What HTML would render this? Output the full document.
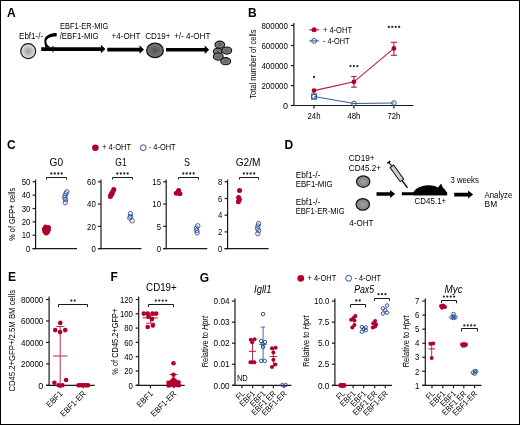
<!DOCTYPE html><html><head><meta charset="utf-8"><style>html,body{margin:0;padding:0;background:#fff;}svg{display:block;will-change:transform;}text{font-family:"Liberation Sans",sans-serif;}</style></head><body>
<svg width="520" height="425" viewBox="0 0 520 425">
<defs><radialGradient id="g1"><stop offset="0" stop-color="#9a9a9a"/><stop offset="1" stop-color="#e4e4e4"/></radialGradient><radialGradient id="g2"><stop offset="0" stop-color="#555"/><stop offset="1" stop-color="#7a7a7a"/></radialGradient><radialGradient id="g4"><stop offset="0" stop-color="#a2a2a2"/><stop offset="1" stop-color="#7e7e7e"/></radialGradient><radialGradient id="g3"><stop offset="0" stop-color="#5e5e5e"/><stop offset="1" stop-color="#858585"/></radialGradient></defs>
<rect x="0" y="0" width="520" height="425" fill="#fff"/>
<rect x="0.5" y="0.5" width="519" height="424" fill="none" stroke="#000" stroke-width="1"/>
<text x="7.00" y="16.60" font-size="12.0" font-weight="bold" fill="#000">A</text>
<circle cx="28.2" cy="51.1" r="7.5" fill="url(#g1)" stroke="#111" stroke-width="1.15"/>
<text x="19.00" y="38.50" font-size="9.3" textLength="24.20" lengthAdjust="spacingAndGlyphs">Ebf1-/-</text>
<text x="60.00" y="29.30" font-size="9.3" textLength="48.30" lengthAdjust="spacingAndGlyphs">EBF1-ER-MIG</text>
<text x="59.70" y="38.90" font-size="9.3" textLength="39.00" lengthAdjust="spacingAndGlyphs">/EBF1-MIG</text>
<path d="M41.20,47.30 H100.90 V44.85 L105.40,49.10 L100.90,53.35 V50.90 H41.20 Z" fill="#000"/>
<path d="M56.7,33.1 C50.5,33.1 44.4,35.5 44.4,41.0 C44.4,43.5 44.9,45.5 45.4,47.6 L51.3,47.6 C48.5,46.3 46.3,44.2 46.3,41.4 C46.3,38.5 50.5,36.5 56.7,36.5 Z" fill="#000"/>
<path d="M52.5,45.5 L55.5,49.1 L52.5,52.7 Z" fill="#000"/>
<text x="111.50" y="38.50" font-size="9.3" textLength="29.00" lengthAdjust="spacingAndGlyphs">+4-OHT</text>
<path d="M107.30,47.80 H139.50 V45.35 L144.00,49.60 L139.50,53.85 V51.40 H107.30 Z" fill="#000"/>
<ellipse cx="155.0" cy="50.4" rx="8.3" ry="7.3" fill="url(#g2)" stroke="#111" stroke-width="1.25"/>
<text x="145.20" y="38.50" font-size="9.3" textLength="25.30" lengthAdjust="spacingAndGlyphs">CD19+</text>
<text x="174.00" y="38.50" font-size="9.3" textLength="36.40" lengthAdjust="spacingAndGlyphs">+/- 4-OHT</text>
<path d="M166.00,47.90 H204.70 V45.45 L209.20,49.70 L204.70,53.95 V51.50 H166.00 Z" fill="#000"/>
<ellipse cx="219.8" cy="44.7" rx="4.8" ry="3.6" fill="url(#g3)" stroke="#111" stroke-width="1.1"/>
<ellipse cx="217.7" cy="51.5" rx="4.4" ry="3.3" fill="url(#g3)" stroke="#111" stroke-width="1.1"/>
<ellipse cx="226.8" cy="50.6" rx="4.9" ry="3.6" fill="url(#g3)" stroke="#111" stroke-width="1.1"/>
<ellipse cx="218.3" cy="56.6" rx="4.9" ry="3.6" fill="url(#g3)" stroke="#111" stroke-width="1.1"/>
<ellipse cx="225.7" cy="61.2" rx="4.9" ry="3.6" fill="url(#g3)" stroke="#111" stroke-width="1.1"/>
<text x="248.00" y="16.60" font-size="12.0" font-weight="bold" fill="#000">B</text>
<line x1="293.90" y1="23.00" x2="293.90" y2="106.10" stroke="#1a1a1a" stroke-width="1.2"/>
<line x1="290.90" y1="25.40" x2="293.90" y2="25.40" stroke="#1a1a1a" stroke-width="1.2"/>
<text x="287.90" y="28.64" font-size="9.0" text-anchor="end" textLength="26.50" lengthAdjust="spacingAndGlyphs">800000</text>
<line x1="290.90" y1="45.50" x2="293.90" y2="45.50" stroke="#1a1a1a" stroke-width="1.2"/>
<text x="287.90" y="48.74" font-size="9.0" text-anchor="end" textLength="26.50" lengthAdjust="spacingAndGlyphs">600000</text>
<line x1="290.90" y1="65.60" x2="293.90" y2="65.60" stroke="#1a1a1a" stroke-width="1.2"/>
<text x="287.90" y="68.84" font-size="9.0" text-anchor="end" textLength="26.50" lengthAdjust="spacingAndGlyphs">400000</text>
<line x1="290.90" y1="85.60" x2="293.90" y2="85.60" stroke="#1a1a1a" stroke-width="1.2"/>
<text x="287.90" y="88.84" font-size="9.0" text-anchor="end" textLength="26.50" lengthAdjust="spacingAndGlyphs">200000</text>
<line x1="290.90" y1="105.50" x2="293.90" y2="105.50" stroke="#1a1a1a" stroke-width="1.2"/>
<text x="287.90" y="108.74" font-size="9.0" text-anchor="end">0</text>
<line x1="290.90" y1="105.50" x2="413.50" y2="105.50" stroke="#1a1a1a" stroke-width="1.2"/>
<line x1="314.00" y1="105.50" x2="314.00" y2="108.50" stroke="#1a1a1a" stroke-width="1.2"/>
<line x1="353.90" y1="105.50" x2="353.90" y2="108.50" stroke="#1a1a1a" stroke-width="1.2"/>
<line x1="393.90" y1="105.50" x2="393.90" y2="108.50" stroke="#1a1a1a" stroke-width="1.2"/>
<text x="314.00" y="118.50" font-size="8.8" text-anchor="middle" textLength="13.00" lengthAdjust="spacingAndGlyphs">24h</text>
<text x="353.90" y="118.50" font-size="8.8" text-anchor="middle" textLength="13.00" lengthAdjust="spacingAndGlyphs">48h</text>
<text x="393.90" y="118.50" font-size="8.8" text-anchor="middle" textLength="13.00" lengthAdjust="spacingAndGlyphs">72h</text>
<text x="256.10" y="64.10" font-size="8.8" text-anchor="middle" textLength="69.40" lengthAdjust="spacingAndGlyphs" transform="rotate(-90 256.10 64.10)">Total number of cells</text>
<polyline points="314,90.6 353.9,81.8 393.9,48.4" fill="none" stroke="#b8183c" stroke-width="1.1"/>
<line x1="353.90" y1="76.50" x2="353.90" y2="87.20" stroke="#b8183c" stroke-width="1.1"/>
<line x1="351.10" y1="76.50" x2="356.70" y2="76.50" stroke="#b8183c" stroke-width="1.1"/>
<line x1="351.10" y1="87.20" x2="356.70" y2="87.20" stroke="#b8183c" stroke-width="1.1"/>
<line x1="393.90" y1="42.30" x2="393.90" y2="55.30" stroke="#b8183c" stroke-width="1.1"/>
<line x1="390.80" y1="42.30" x2="397.00" y2="42.30" stroke="#b8183c" stroke-width="1.1"/>
<line x1="390.80" y1="55.30" x2="397.00" y2="55.30" stroke="#b8183c" stroke-width="1.1"/>
<circle cx="314.00" cy="90.60" r="2.4" fill="#b0002a"/>
<circle cx="353.90" cy="81.80" r="2.4" fill="#b0002a"/>
<circle cx="393.90" cy="48.40" r="2.4" fill="#b0002a"/>
<polyline points="314,96.5 353.9,103.5 393.9,103.0" fill="none" stroke="#3a5a9e" stroke-width="1.1"/>
<rect x="311.6" y="93.9" width="4.9" height="5.3" fill="none" stroke="#2e4f96" stroke-width="0.95"/>
<circle cx="314.00" cy="96.50" r="2.3" fill="none" stroke="#2e4f96" stroke-width="1.0"/>
<circle cx="353.90" cy="103.50" r="2.3" fill="none" stroke="#2e4f96" stroke-width="1.0"/>
<circle cx="393.90" cy="103.00" r="2.3" fill="none" stroke="#2e4f96" stroke-width="1.0"/>
<circle cx="314.00" cy="77.00" r="1.15" fill="#2a2a2a"/>
<circle cx="350.45" cy="66.10" r="1.15" fill="#2a2a2a"/>
<circle cx="353.90" cy="66.10" r="1.15" fill="#2a2a2a"/>
<circle cx="357.35" cy="66.10" r="1.15" fill="#2a2a2a"/>
<circle cx="388.82" cy="26.90" r="1.15" fill="#2a2a2a"/>
<circle cx="392.27" cy="26.90" r="1.15" fill="#2a2a2a"/>
<circle cx="395.73" cy="26.90" r="1.15" fill="#2a2a2a"/>
<circle cx="399.18" cy="26.90" r="1.15" fill="#2a2a2a"/>
<line x1="309.20" y1="29.80" x2="319.00" y2="29.80" stroke="#b8183c" stroke-width="1.1"/>
<circle cx="314.10" cy="29.80" r="2.5" fill="#b0002a"/>
<text x="322.90" y="32.50" font-size="8.6" textLength="29.10" lengthAdjust="spacingAndGlyphs">+ 4-OHT</text>
<line x1="309.20" y1="40.90" x2="319.00" y2="40.90" stroke="#3a5a9e" stroke-width="1.1"/>
<circle cx="314.10" cy="40.90" r="2.4" fill="none" stroke="#2e4f96" stroke-width="1.0"/>
<text x="322.90" y="43.60" font-size="8.6" textLength="26.60" lengthAdjust="spacingAndGlyphs">- 4-OHT</text>
<text x="7.00" y="149.00" font-size="12.0" font-weight="bold" fill="#000">C</text>
<circle cx="95.40" cy="147.70" r="3.3" fill="#b0002a"/>
<text x="102.00" y="150.30" font-size="8.62" textLength="29.00" lengthAdjust="spacingAndGlyphs">+ 4-OHT</text>
<circle cx="143.20" cy="147.70" r="2.9" fill="none" stroke="#2e4f96" stroke-width="1.0"/>
<text x="148.80" y="150.30" font-size="8.62" textLength="26.80" lengthAdjust="spacingAndGlyphs">- 4-OHT</text>
<text x="15.30" y="214.30" font-size="8.5" text-anchor="middle" textLength="52.80" lengthAdjust="spacingAndGlyphs" transform="rotate(-90 15.30 214.30)">% of GFP+ cells</text>
<line x1="35.60" y1="179.50" x2="35.60" y2="249.20" stroke="#1a1a1a" stroke-width="1.2"/>
<line x1="32.60" y1="248.60" x2="35.60" y2="248.60" stroke="#1a1a1a" stroke-width="1.2"/>
<text x="30.40" y="251.84" font-size="9.0" text-anchor="end" textLength="4.34" lengthAdjust="spacingAndGlyphs">0</text>
<line x1="32.60" y1="235.24" x2="35.60" y2="235.24" stroke="#1a1a1a" stroke-width="1.2"/>
<text x="30.40" y="238.48" font-size="9.0" text-anchor="end" textLength="8.68" lengthAdjust="spacingAndGlyphs">10</text>
<line x1="32.60" y1="221.88" x2="35.60" y2="221.88" stroke="#1a1a1a" stroke-width="1.2"/>
<text x="30.40" y="225.12" font-size="9.0" text-anchor="end" textLength="8.68" lengthAdjust="spacingAndGlyphs">20</text>
<line x1="32.60" y1="208.52" x2="35.60" y2="208.52" stroke="#1a1a1a" stroke-width="1.2"/>
<text x="30.40" y="211.76" font-size="9.0" text-anchor="end" textLength="8.68" lengthAdjust="spacingAndGlyphs">30</text>
<line x1="32.60" y1="195.16" x2="35.60" y2="195.16" stroke="#1a1a1a" stroke-width="1.2"/>
<text x="30.40" y="198.40" font-size="9.0" text-anchor="end" textLength="8.68" lengthAdjust="spacingAndGlyphs">40</text>
<line x1="32.60" y1="181.80" x2="35.60" y2="181.80" stroke="#1a1a1a" stroke-width="1.2"/>
<text x="30.40" y="185.04" font-size="9.0" text-anchor="end" textLength="8.68" lengthAdjust="spacingAndGlyphs">50</text>
<line x1="32.60" y1="248.60" x2="77.00" y2="248.60" stroke="#1a1a1a" stroke-width="1.2"/>
<text x="56.30" y="165.90" font-size="10.53" text-anchor="middle" textLength="13.50" lengthAdjust="spacingAndGlyphs">G0</text>
<path d="M46.50,179.50 V177.50 H66.50 V179.50" fill="none" stroke="#1a1a1a" stroke-width="1"/>
<circle cx="51.33" cy="173.50" r="1.15" fill="#2a2a2a"/>
<circle cx="54.77" cy="173.50" r="1.15" fill="#2a2a2a"/>
<circle cx="58.23" cy="173.50" r="1.15" fill="#2a2a2a"/>
<circle cx="61.67" cy="173.50" r="1.15" fill="#2a2a2a"/>
<circle cx="45.60" cy="227.00" r="2.5" fill="#b0002a"/>
<circle cx="48.40" cy="227.40" r="2.5" fill="#b0002a"/>
<circle cx="44.40" cy="229.00" r="2.5" fill="#b0002a"/>
<circle cx="48.40" cy="229.80" r="2.5" fill="#b0002a"/>
<circle cx="46.20" cy="230.00" r="2.5" fill="#b0002a"/>
<circle cx="44.80" cy="231.60" r="2.5" fill="#b0002a"/>
<circle cx="47.60" cy="231.80" r="2.5" fill="#b0002a"/>
<circle cx="46.20" cy="233.00" r="2.5" fill="#b0002a"/>
<circle cx="66.80" cy="191.80" r="2.2" fill="none" stroke="#2e4f96" stroke-width="0.9"/>
<circle cx="65.80" cy="193.80" r="2.2" fill="none" stroke="#2e4f96" stroke-width="0.9"/>
<circle cx="65.00" cy="195.80" r="2.2" fill="none" stroke="#2e4f96" stroke-width="0.9"/>
<circle cx="64.80" cy="197.80" r="2.2" fill="none" stroke="#2e4f96" stroke-width="0.9"/>
<circle cx="65.60" cy="199.80" r="2.2" fill="none" stroke="#2e4f96" stroke-width="0.9"/>
<circle cx="65.30" cy="202.60" r="2.2" fill="none" stroke="#2e4f96" stroke-width="0.9"/>
<line x1="101.00" y1="179.50" x2="101.00" y2="249.20" stroke="#1a1a1a" stroke-width="1.2"/>
<line x1="98.00" y1="248.60" x2="101.00" y2="248.60" stroke="#1a1a1a" stroke-width="1.2"/>
<text x="95.80" y="251.84" font-size="9.0" text-anchor="end" textLength="4.34" lengthAdjust="spacingAndGlyphs">0</text>
<line x1="98.00" y1="226.33" x2="101.00" y2="226.33" stroke="#1a1a1a" stroke-width="1.2"/>
<text x="95.80" y="229.57" font-size="9.0" text-anchor="end" textLength="8.68" lengthAdjust="spacingAndGlyphs">20</text>
<line x1="98.00" y1="204.07" x2="101.00" y2="204.07" stroke="#1a1a1a" stroke-width="1.2"/>
<text x="95.80" y="207.31" font-size="9.0" text-anchor="end" textLength="8.68" lengthAdjust="spacingAndGlyphs">40</text>
<line x1="98.00" y1="181.80" x2="101.00" y2="181.80" stroke="#1a1a1a" stroke-width="1.2"/>
<text x="95.80" y="185.04" font-size="9.0" text-anchor="end" textLength="8.68" lengthAdjust="spacingAndGlyphs">60</text>
<line x1="98.00" y1="248.60" x2="141.50" y2="248.60" stroke="#1a1a1a" stroke-width="1.2"/>
<text x="121.00" y="165.90" font-size="10.53" text-anchor="middle" textLength="11.40" lengthAdjust="spacingAndGlyphs">G1</text>
<path d="M112.50,179.50 V177.50 H132.50 V179.50" fill="none" stroke="#1a1a1a" stroke-width="1"/>
<circle cx="117.33" cy="173.50" r="1.15" fill="#2a2a2a"/>
<circle cx="120.78" cy="173.50" r="1.15" fill="#2a2a2a"/>
<circle cx="124.22" cy="173.50" r="1.15" fill="#2a2a2a"/>
<circle cx="127.67" cy="173.50" r="1.15" fill="#2a2a2a"/>
<circle cx="113.80" cy="189.60" r="2.5" fill="#b0002a"/>
<circle cx="112.80" cy="191.50" r="2.5" fill="#b0002a"/>
<circle cx="111.60" cy="193.50" r="2.5" fill="#b0002a"/>
<circle cx="110.60" cy="195.50" r="2.5" fill="#b0002a"/>
<circle cx="110.40" cy="196.50" r="2.5" fill="#b0002a"/>
<circle cx="112.00" cy="194.00" r="2.5" fill="#b0002a"/>
<circle cx="130.40" cy="213.60" r="2.2" fill="none" stroke="#2e4f96" stroke-width="0.9"/>
<circle cx="130.60" cy="216.50" r="2.2" fill="none" stroke="#2e4f96" stroke-width="0.9"/>
<circle cx="129.80" cy="218.00" r="2.2" fill="none" stroke="#2e4f96" stroke-width="0.9"/>
<circle cx="132.20" cy="220.80" r="2.2" fill="none" stroke="#2e4f96" stroke-width="0.9"/>
<line x1="166.20" y1="179.50" x2="166.20" y2="249.20" stroke="#1a1a1a" stroke-width="1.2"/>
<line x1="163.20" y1="248.60" x2="166.20" y2="248.60" stroke="#1a1a1a" stroke-width="1.2"/>
<text x="161.00" y="251.84" font-size="9.0" text-anchor="end" textLength="4.34" lengthAdjust="spacingAndGlyphs">0</text>
<line x1="163.20" y1="226.33" x2="166.20" y2="226.33" stroke="#1a1a1a" stroke-width="1.2"/>
<text x="161.00" y="229.57" font-size="9.0" text-anchor="end" textLength="4.34" lengthAdjust="spacingAndGlyphs">5</text>
<line x1="163.20" y1="204.07" x2="166.20" y2="204.07" stroke="#1a1a1a" stroke-width="1.2"/>
<text x="161.00" y="207.31" font-size="9.0" text-anchor="end" textLength="8.68" lengthAdjust="spacingAndGlyphs">10</text>
<line x1="163.20" y1="181.80" x2="166.20" y2="181.80" stroke="#1a1a1a" stroke-width="1.2"/>
<text x="161.00" y="185.04" font-size="9.0" text-anchor="end" textLength="8.68" lengthAdjust="spacingAndGlyphs">15</text>
<line x1="163.20" y1="248.60" x2="207.30" y2="248.60" stroke="#1a1a1a" stroke-width="1.2"/>
<text x="186.90" y="165.90" font-size="10.53" text-anchor="middle" textLength="6.00" lengthAdjust="spacingAndGlyphs">S</text>
<path d="M178.50,179.50 V177.50 H198.50 V179.50" fill="none" stroke="#1a1a1a" stroke-width="1"/>
<circle cx="183.32" cy="173.50" r="1.15" fill="#2a2a2a"/>
<circle cx="186.78" cy="173.50" r="1.15" fill="#2a2a2a"/>
<circle cx="190.22" cy="173.50" r="1.15" fill="#2a2a2a"/>
<circle cx="193.68" cy="173.50" r="1.15" fill="#2a2a2a"/>
<circle cx="178.60" cy="190.40" r="2.5" fill="#b0002a"/>
<circle cx="176.30" cy="193.30" r="2.5" fill="#b0002a"/>
<circle cx="179.90" cy="193.80" r="2.5" fill="#b0002a"/>
<circle cx="178.00" cy="192.60" r="2.5" fill="#b0002a"/>
<circle cx="197.80" cy="225.80" r="2.2" fill="none" stroke="#2e4f96" stroke-width="0.9"/>
<circle cx="196.40" cy="228.20" r="2.2" fill="none" stroke="#2e4f96" stroke-width="0.9"/>
<circle cx="196.80" cy="230.50" r="2.2" fill="none" stroke="#2e4f96" stroke-width="0.9"/>
<circle cx="197.20" cy="232.80" r="2.2" fill="none" stroke="#2e4f96" stroke-width="0.9"/>
<line x1="227.60" y1="179.50" x2="227.60" y2="249.20" stroke="#1a1a1a" stroke-width="1.2"/>
<line x1="224.60" y1="248.60" x2="227.60" y2="248.60" stroke="#1a1a1a" stroke-width="1.2"/>
<text x="222.40" y="251.84" font-size="9.0" text-anchor="end" textLength="4.34" lengthAdjust="spacingAndGlyphs">0</text>
<line x1="224.60" y1="231.90" x2="227.60" y2="231.90" stroke="#1a1a1a" stroke-width="1.2"/>
<text x="222.40" y="235.14" font-size="9.0" text-anchor="end" textLength="4.34" lengthAdjust="spacingAndGlyphs">2</text>
<line x1="224.60" y1="215.20" x2="227.60" y2="215.20" stroke="#1a1a1a" stroke-width="1.2"/>
<text x="222.40" y="218.44" font-size="9.0" text-anchor="end" textLength="4.34" lengthAdjust="spacingAndGlyphs">4</text>
<line x1="224.60" y1="198.50" x2="227.60" y2="198.50" stroke="#1a1a1a" stroke-width="1.2"/>
<text x="222.40" y="201.74" font-size="9.0" text-anchor="end" textLength="4.34" lengthAdjust="spacingAndGlyphs">6</text>
<line x1="224.60" y1="181.80" x2="227.60" y2="181.80" stroke="#1a1a1a" stroke-width="1.2"/>
<text x="222.40" y="185.04" font-size="9.0" text-anchor="end" textLength="4.34" lengthAdjust="spacingAndGlyphs">8</text>
<line x1="224.60" y1="248.60" x2="268.60" y2="248.60" stroke="#1a1a1a" stroke-width="1.2"/>
<text x="248.10" y="165.90" font-size="10.53" text-anchor="middle" textLength="24.80" lengthAdjust="spacingAndGlyphs">G2/M</text>
<path d="M239.50,179.50 V177.50 H258.50 V179.50" fill="none" stroke="#1a1a1a" stroke-width="1"/>
<circle cx="243.82" cy="173.50" r="1.15" fill="#2a2a2a"/>
<circle cx="247.28" cy="173.50" r="1.15" fill="#2a2a2a"/>
<circle cx="250.72" cy="173.50" r="1.15" fill="#2a2a2a"/>
<circle cx="254.18" cy="173.50" r="1.15" fill="#2a2a2a"/>
<circle cx="239.60" cy="190.40" r="2.5" fill="#b0002a"/>
<circle cx="238.60" cy="197.60" r="2.5" fill="#b0002a"/>
<circle cx="239.40" cy="199.60" r="2.5" fill="#b0002a"/>
<circle cx="238.40" cy="201.80" r="2.5" fill="#b0002a"/>
<circle cx="258.60" cy="223.60" r="2.2" fill="none" stroke="#2e4f96" stroke-width="0.9"/>
<circle cx="258.00" cy="226.00" r="2.2" fill="none" stroke="#2e4f96" stroke-width="0.9"/>
<circle cx="257.40" cy="228.40" r="2.2" fill="none" stroke="#2e4f96" stroke-width="0.9"/>
<circle cx="258.60" cy="230.60" r="2.2" fill="none" stroke="#2e4f96" stroke-width="0.9"/>
<circle cx="257.80" cy="233.60" r="2.2" fill="none" stroke="#2e4f96" stroke-width="0.9"/>
<text x="284.60" y="149.00" font-size="12.0" font-weight="bold" fill="#000">D</text>
<text x="348.80" y="161.00" font-size="9.3" textLength="25.80" lengthAdjust="spacingAndGlyphs">CD19+</text>
<text x="348.80" y="170.80" font-size="9.3" textLength="32.10" lengthAdjust="spacingAndGlyphs">CD45.2+</text>
<text x="295.70" y="177.70" font-size="9.3" textLength="24.70" lengthAdjust="spacingAndGlyphs">Ebf1-/-</text>
<text x="295.70" y="187.00" font-size="9.3" textLength="36.90" lengthAdjust="spacingAndGlyphs">EBF1-MIG</text>
<text x="295.70" y="205.40" font-size="9.3" textLength="24.70" lengthAdjust="spacingAndGlyphs">Ebf1-/-</text>
<text x="295.70" y="214.20" font-size="9.3" textLength="48.90" lengthAdjust="spacingAndGlyphs">EBF1-ER-MIG</text>
<text x="349.20" y="226.20" font-size="9.3" textLength="24.30" lengthAdjust="spacingAndGlyphs">4-OHT</text>
<ellipse cx="363.2" cy="181.6" rx="6.7" ry="5.7" fill="url(#g4)" stroke="#151515" stroke-width="1.2"/>
<ellipse cx="362.8" cy="204.4" rx="6.7" ry="5.8" fill="url(#g4)" stroke="#151515" stroke-width="1.2"/>
<path d="M376.50,192.20 H390.10 V190.00 L395.10,194.00 L390.10,198.00 V195.80 H376.50 Z" fill="#000"/>
<g transform="rotate(54.1 398 174.8)"><line x1="382.3" y1="174.8" x2="388" y2="174.8" stroke="#000" stroke-width="1.0"/><line x1="404" y1="174.8" x2="414.1" y2="174.8" stroke="#000" stroke-width="1.35"/><rect x="387.5" y="172.6" width="17.3" height="4.4" fill="#d0d0d0" stroke="#111" stroke-width="1.0"/><line x1="382.4" y1="172.9" x2="382.4" y2="176.7" stroke="#000" stroke-width="1.5"/></g>
<path d="M401.8,192.2 H447.2 V195.2 H401.8 Z" fill="#000"/>
<path d="M413.3,192.5 C415.5,188.5 420.5,185.6 428,185.2 C432.5,185.0 436,186.0 438.0,187.6 L441.2,183.5 L442.8,187.6 C444.7,189.0 446.6,191.3 447.0,193.5 L447.0,195.2 L413.3,195.2 Z" fill="#000"/>
<text x="414.60" y="203.80" font-size="9.3" textLength="31.60" lengthAdjust="spacingAndGlyphs">CD45.1+</text>
<text x="450.50" y="183.10" font-size="9.3" textLength="28.30" lengthAdjust="spacingAndGlyphs">3 weeks</text>
<path d="M454.20,192.80 H468.10 V190.60 L473.10,194.60 L468.10,198.60 V196.40 H454.20 Z" fill="#000"/>
<text x="484.60" y="197.70" font-size="9.3" textLength="27.70" lengthAdjust="spacingAndGlyphs">Analyze</text>
<text x="484.60" y="207.00" font-size="9.3" textLength="12.50" lengthAdjust="spacingAndGlyphs">BM</text>
<text x="8.00" y="281.00" font-size="12.0" font-weight="bold" fill="#000">E</text>
<line x1="49.10" y1="296.40" x2="49.10" y2="385.90" stroke="#1a1a1a" stroke-width="1.2"/>
<line x1="46.10" y1="385.30" x2="49.10" y2="385.30" stroke="#1a1a1a" stroke-width="1.2"/>
<text x="43.30" y="388.54" font-size="9.0" text-anchor="end">0</text>
<line x1="46.10" y1="363.85" x2="49.10" y2="363.85" stroke="#1a1a1a" stroke-width="1.2"/>
<text x="43.30" y="367.09" font-size="9.0" text-anchor="end" textLength="22.30" lengthAdjust="spacingAndGlyphs">20000</text>
<line x1="46.10" y1="342.40" x2="49.10" y2="342.40" stroke="#1a1a1a" stroke-width="1.2"/>
<text x="43.30" y="345.64" font-size="9.0" text-anchor="end" textLength="22.30" lengthAdjust="spacingAndGlyphs">40000</text>
<line x1="46.10" y1="320.95" x2="49.10" y2="320.95" stroke="#1a1a1a" stroke-width="1.2"/>
<text x="43.30" y="324.19" font-size="9.0" text-anchor="end" textLength="22.30" lengthAdjust="spacingAndGlyphs">60000</text>
<line x1="46.10" y1="299.50" x2="49.10" y2="299.50" stroke="#1a1a1a" stroke-width="1.2"/>
<text x="43.30" y="302.74" font-size="9.0" text-anchor="end" textLength="22.30" lengthAdjust="spacingAndGlyphs">80000</text>
<line x1="46.10" y1="385.30" x2="94.70" y2="385.30" stroke="#1a1a1a" stroke-width="1.2"/>
<line x1="60.20" y1="385.30" x2="60.20" y2="388.30" stroke="#1a1a1a" stroke-width="1.2"/>
<line x1="83.30" y1="385.30" x2="83.30" y2="388.30" stroke="#1a1a1a" stroke-width="1.2"/>
<text x="15.40" y="340.75" font-size="8.5" text-anchor="middle" textLength="101.70" lengthAdjust="spacingAndGlyphs" transform="rotate(-90 15.40 340.75)">CD45.2+GFP+/2.5M BM cells</text>
<path d="M58.50,307.10 V304.50 H87.50 V307.10" fill="none" stroke="#1a1a1a" stroke-width="1"/>
<circle cx="71.28" cy="300.60" r="1.15" fill="#2a2a2a"/>
<circle cx="74.72" cy="300.60" r="1.15" fill="#2a2a2a"/>
<line x1="60.20" y1="326.50" x2="60.20" y2="385.30" stroke="#b8183c" stroke-width="0.9"/>
<line x1="56.20" y1="326.50" x2="64.40" y2="326.50" stroke="#b8183c" stroke-width="0.9"/>
<line x1="53.00" y1="356.00" x2="67.60" y2="356.00" stroke="#b8183c" stroke-width="0.9"/>
<circle cx="60.30" cy="322.90" r="2.3" fill="#b0002a"/>
<circle cx="55.20" cy="330.10" r="2.3" fill="#b0002a"/>
<circle cx="60.10" cy="332.10" r="2.3" fill="#b0002a"/>
<circle cx="65.20" cy="330.10" r="2.3" fill="#b0002a"/>
<circle cx="54.40" cy="382.70" r="2.3" fill="#b0002a"/>
<circle cx="58.60" cy="385.30" r="2.3" fill="#b0002a"/>
<circle cx="62.40" cy="385.30" r="2.3" fill="#b0002a"/>
<circle cx="66.10" cy="380.00" r="2.3" fill="#b0002a"/>
<circle cx="78.50" cy="385.30" r="2.3" fill="#b0002a"/>
<circle cx="80.50" cy="385.30" r="2.3" fill="#b0002a"/>
<circle cx="82.50" cy="385.30" r="2.3" fill="#b0002a"/>
<circle cx="84.50" cy="385.30" r="2.3" fill="#b0002a"/>
<circle cx="86.50" cy="385.30" r="2.3" fill="#b0002a"/>
<circle cx="88.00" cy="385.30" r="2.3" fill="#b0002a"/>
<text x="63.20" y="394.30" font-size="8.3" text-anchor="end" textLength="19.26" lengthAdjust="spacingAndGlyphs" transform="rotate(-45 63.20 394.30)">EBF1</text>
<text x="86.50" y="394.30" font-size="8.3" text-anchor="end" textLength="32.52" lengthAdjust="spacingAndGlyphs" transform="rotate(-45 86.50 394.30)">EBF1-ER</text>
<text x="110.60" y="281.00" font-size="12.0" font-weight="bold" fill="#000">F</text>
<text x="161.40" y="291.00" font-size="10.53" text-anchor="middle" textLength="30.60" lengthAdjust="spacingAndGlyphs">CD19+</text>
<line x1="138.70" y1="296.40" x2="138.70" y2="385.90" stroke="#1a1a1a" stroke-width="1.2"/>
<line x1="135.70" y1="385.30" x2="138.70" y2="385.30" stroke="#1a1a1a" stroke-width="1.2"/>
<text x="132.90" y="388.54" font-size="9.0" text-anchor="end" textLength="4.34" lengthAdjust="spacingAndGlyphs">0</text>
<line x1="135.70" y1="371.00" x2="138.70" y2="371.00" stroke="#1a1a1a" stroke-width="1.2"/>
<text x="132.90" y="374.24" font-size="9.0" text-anchor="end" textLength="8.68" lengthAdjust="spacingAndGlyphs">20</text>
<line x1="135.70" y1="356.70" x2="138.70" y2="356.70" stroke="#1a1a1a" stroke-width="1.2"/>
<text x="132.90" y="359.94" font-size="9.0" text-anchor="end" textLength="8.68" lengthAdjust="spacingAndGlyphs">40</text>
<line x1="135.70" y1="342.40" x2="138.70" y2="342.40" stroke="#1a1a1a" stroke-width="1.2"/>
<text x="132.90" y="345.64" font-size="9.0" text-anchor="end" textLength="8.68" lengthAdjust="spacingAndGlyphs">60</text>
<line x1="135.70" y1="328.10" x2="138.70" y2="328.10" stroke="#1a1a1a" stroke-width="1.2"/>
<text x="132.90" y="331.34" font-size="9.0" text-anchor="end" textLength="8.68" lengthAdjust="spacingAndGlyphs">80</text>
<line x1="135.70" y1="313.80" x2="138.70" y2="313.80" stroke="#1a1a1a" stroke-width="1.2"/>
<text x="132.90" y="317.04" font-size="9.0" text-anchor="end" textLength="13.01" lengthAdjust="spacingAndGlyphs">100</text>
<line x1="135.70" y1="299.50" x2="138.70" y2="299.50" stroke="#1a1a1a" stroke-width="1.2"/>
<text x="132.90" y="302.74" font-size="9.0" text-anchor="end" textLength="13.01" lengthAdjust="spacingAndGlyphs">120</text>
<line x1="135.70" y1="385.30" x2="184.70" y2="385.30" stroke="#1a1a1a" stroke-width="1.2"/>
<line x1="150.50" y1="385.30" x2="150.50" y2="388.30" stroke="#1a1a1a" stroke-width="1.2"/>
<line x1="174.00" y1="385.30" x2="174.00" y2="388.30" stroke="#1a1a1a" stroke-width="1.2"/>
<text x="118.30" y="341.70" font-size="8.5" text-anchor="middle" textLength="66.20" lengthAdjust="spacingAndGlyphs" transform="rotate(-90 118.30 341.70)">% of CD45.2+GFP+</text>
<path d="M148.50,307.10 V304.50 H173.50 V307.10" fill="none" stroke="#1a1a1a" stroke-width="1"/>
<circle cx="155.82" cy="300.60" r="1.15" fill="#2a2a2a"/>
<circle cx="159.28" cy="300.60" r="1.15" fill="#2a2a2a"/>
<circle cx="162.72" cy="300.60" r="1.15" fill="#2a2a2a"/>
<circle cx="166.18" cy="300.60" r="1.15" fill="#2a2a2a"/>
<line x1="150.50" y1="315.20" x2="150.50" y2="323.20" stroke="#b8183c" stroke-width="0.9"/>
<line x1="146.00" y1="323.20" x2="155.00" y2="323.20" stroke="#b8183c" stroke-width="0.9"/>
<line x1="146.00" y1="315.20" x2="155.00" y2="315.20" stroke="#b8183c" stroke-width="0.9"/>
<line x1="142.60" y1="317.90" x2="157.90" y2="317.90" stroke="#b8183c" stroke-width="1.0"/>
<circle cx="143.80" cy="313.60" r="2.3" fill="#b0002a"/>
<circle cx="147.70" cy="313.60" r="2.3" fill="#b0002a"/>
<circle cx="152.40" cy="313.60" r="2.3" fill="#b0002a"/>
<circle cx="156.20" cy="313.60" r="2.3" fill="#b0002a"/>
<circle cx="148.50" cy="316.80" r="2.3" fill="#b0002a"/>
<circle cx="152.10" cy="319.10" r="2.3" fill="#b0002a"/>
<circle cx="147.70" cy="327.00" r="2.3" fill="#b0002a"/>
<circle cx="152.90" cy="325.40" r="2.3" fill="#b0002a"/>
<line x1="173.50" y1="374.50" x2="173.50" y2="385.30" stroke="#b8183c" stroke-width="0.9"/>
<line x1="169.40" y1="374.50" x2="177.60" y2="374.50" stroke="#b8183c" stroke-width="0.9"/>
<line x1="166.20" y1="381.20" x2="180.80" y2="381.20" stroke="#b8183c" stroke-width="1.0"/>
<circle cx="173.50" cy="363.20" r="2.3" fill="#b0002a"/>
<circle cx="173.50" cy="374.80" r="2.3" fill="#b0002a"/>
<circle cx="173.50" cy="379.60" r="2.3" fill="#b0002a"/>
<circle cx="171.60" cy="381.60" r="2.3" fill="#b0002a"/>
<circle cx="175.40" cy="381.40" r="2.3" fill="#b0002a"/>
<circle cx="168.70" cy="383.00" r="2.3" fill="#b0002a"/>
<circle cx="178.40" cy="382.60" r="2.3" fill="#b0002a"/>
<circle cx="170.40" cy="385.00" r="2.3" fill="#b0002a"/>
<circle cx="173.50" cy="385.20" r="2.3" fill="#b0002a"/>
<circle cx="176.60" cy="385.00" r="2.3" fill="#b0002a"/>
<circle cx="168.60" cy="385.40" r="2.3" fill="#b0002a"/>
<circle cx="178.90" cy="385.20" r="2.3" fill="#b0002a"/>
<circle cx="173.50" cy="382.60" r="2.3" fill="#b0002a"/>
<text x="153.50" y="394.30" font-size="8.3" text-anchor="end" textLength="19.26" lengthAdjust="spacingAndGlyphs" transform="rotate(-45 153.50 394.30)">EBF1</text>
<text x="177.00" y="394.30" font-size="8.3" text-anchor="end" textLength="32.52" lengthAdjust="spacingAndGlyphs" transform="rotate(-45 177.00 394.30)">EBF1-ER</text>
<text x="199.80" y="281.50" font-size="12.0" font-weight="bold" fill="#000">G</text>
<circle cx="300.80" cy="278.30" r="3.4" fill="#b0002a"/>
<text x="307.50" y="280.60" font-size="8.62" textLength="28.70" lengthAdjust="spacingAndGlyphs">+ 4-OHT</text>
<circle cx="348.70" cy="278.30" r="2.9" fill="none" stroke="#2e4f96" stroke-width="1.0"/>
<text x="354.60" y="280.60" font-size="8.62" textLength="26.30" lengthAdjust="spacingAndGlyphs">- 4-OHT</text>
<line x1="235.00" y1="298.50" x2="235.00" y2="385.90" stroke="#1a1a1a" stroke-width="1.2"/>
<line x1="232.00" y1="385.30" x2="235.00" y2="385.30" stroke="#1a1a1a" stroke-width="1.2"/>
<text x="229.50" y="388.54" font-size="9.0" text-anchor="end" textLength="15.90" lengthAdjust="spacingAndGlyphs">0.00</text>
<line x1="232.00" y1="364.25" x2="235.00" y2="364.25" stroke="#1a1a1a" stroke-width="1.2"/>
<text x="229.50" y="367.49" font-size="9.0" text-anchor="end" textLength="15.90" lengthAdjust="spacingAndGlyphs">0.01</text>
<line x1="232.00" y1="343.20" x2="235.00" y2="343.20" stroke="#1a1a1a" stroke-width="1.2"/>
<text x="229.50" y="346.44" font-size="9.0" text-anchor="end" textLength="15.90" lengthAdjust="spacingAndGlyphs">0.02</text>
<line x1="232.00" y1="322.15" x2="235.00" y2="322.15" stroke="#1a1a1a" stroke-width="1.2"/>
<text x="229.50" y="325.39" font-size="9.0" text-anchor="end" textLength="15.90" lengthAdjust="spacingAndGlyphs">0.03</text>
<line x1="232.00" y1="301.10" x2="235.00" y2="301.10" stroke="#1a1a1a" stroke-width="1.2"/>
<text x="229.50" y="304.34" font-size="9.0" text-anchor="end" textLength="15.90" lengthAdjust="spacingAndGlyphs">0.04</text>
<line x1="232.00" y1="385.30" x2="291.40" y2="385.30" stroke="#1a1a1a" stroke-width="1.2"/>
<line x1="241.90" y1="385.30" x2="241.90" y2="388.30" stroke="#1a1a1a" stroke-width="1.2"/>
<line x1="252.60" y1="385.30" x2="252.60" y2="388.30" stroke="#1a1a1a" stroke-width="1.2"/>
<line x1="263.10" y1="385.30" x2="263.10" y2="388.30" stroke="#1a1a1a" stroke-width="1.2"/>
<line x1="273.40" y1="385.30" x2="273.40" y2="388.30" stroke="#1a1a1a" stroke-width="1.2"/>
<line x1="284.00" y1="385.30" x2="284.00" y2="388.30" stroke="#1a1a1a" stroke-width="1.2"/>
<text x="262.80" y="293.00" font-size="10.35" text-anchor="middle" textLength="17.40" lengthAdjust="spacingAndGlyphs" font-style="italic">Igll1</text>
<text x="245.10" y="394.20" font-size="8.2" text-anchor="end" textLength="8.63" lengthAdjust="spacingAndGlyphs" transform="rotate(-45 245.10 394.20)">FL</text>
<text x="255.80" y="394.20" font-size="8.2" text-anchor="end" textLength="18.51" lengthAdjust="spacingAndGlyphs" transform="rotate(-45 255.80 394.20)">EBF1</text>
<text x="266.30" y="394.20" font-size="8.2" text-anchor="end" textLength="18.51" lengthAdjust="spacingAndGlyphs" transform="rotate(-45 266.30 394.20)">EBF1</text>
<text x="276.60" y="394.20" font-size="8.2" text-anchor="end" textLength="30.84" lengthAdjust="spacingAndGlyphs" transform="rotate(-45 276.60 394.20)">EBF1 ER</text>
<text x="287.20" y="394.20" font-size="8.2" text-anchor="end" textLength="31.25" lengthAdjust="spacingAndGlyphs" transform="rotate(-45 287.20 394.20)">EBF1-ER</text>
<text x="208.20" y="341.65" font-size="8.5" text-anchor="middle" transform="rotate(-90 208.20 341.65)" textLength="51.3" lengthAdjust="spacingAndGlyphs">Relative to <tspan font-style="italic">Hprt</tspan></text>
<text x="236.90" y="380.70" font-size="8.62" textLength="10.90" lengthAdjust="spacingAndGlyphs">ND</text>
<line x1="252.50" y1="339.50" x2="252.50" y2="362.30" stroke="#b8183c" stroke-width="0.9"/>
<line x1="248.90" y1="351.30" x2="256.00" y2="351.30" stroke="#b8183c" stroke-width="1.0"/>
<circle cx="250.80" cy="339.70" r="2.0" fill="#b0002a"/>
<circle cx="254.60" cy="339.20" r="2.0" fill="#b0002a"/>
<circle cx="252.20" cy="342.30" r="2.0" fill="#b0002a"/>
<circle cx="250.40" cy="362.30" r="2.0" fill="#b0002a"/>
<circle cx="254.40" cy="362.30" r="2.0" fill="#b0002a"/>
<circle cx="252.40" cy="362.30" r="2.0" fill="#b0002a"/>
<line x1="263.10" y1="327.10" x2="263.10" y2="360.90" stroke="#3a5a9e" stroke-width="0.9"/>
<line x1="260.90" y1="327.10" x2="265.30" y2="327.10" stroke="#3a5a9e" stroke-width="0.9"/>
<line x1="259.30" y1="344.40" x2="266.60" y2="344.40" stroke="#3a5a9e" stroke-width="1.0"/>
<circle cx="263.10" cy="314.10" r="1.75" fill="none" stroke="#2e4f96" stroke-width="1.0"/>
<circle cx="261.20" cy="341.10" r="1.75" fill="none" stroke="#2e4f96" stroke-width="1.0"/>
<circle cx="264.90" cy="342.10" r="1.75" fill="none" stroke="#2e4f96" stroke-width="1.0"/>
<circle cx="262.80" cy="344.00" r="1.75" fill="none" stroke="#2e4f96" stroke-width="1.0"/>
<circle cx="263.10" cy="347.00" r="1.75" fill="none" stroke="#2e4f96" stroke-width="1.0"/>
<circle cx="261.20" cy="360.90" r="1.75" fill="none" stroke="#2e4f96" stroke-width="1.0"/>
<circle cx="264.70" cy="360.90" r="1.75" fill="none" stroke="#2e4f96" stroke-width="1.0"/>
<line x1="273.40" y1="348.00" x2="273.40" y2="367.00" stroke="#b8183c" stroke-width="0.9"/>
<line x1="270.10" y1="356.50" x2="276.90" y2="356.50" stroke="#b8183c" stroke-width="1.0"/>
<circle cx="272.00" cy="348.20" r="2.0" fill="#b0002a"/>
<circle cx="275.60" cy="347.70" r="2.0" fill="#b0002a"/>
<circle cx="273.40" cy="352.40" r="2.0" fill="#b0002a"/>
<circle cx="273.40" cy="359.70" r="2.0" fill="#b0002a"/>
<circle cx="275.30" cy="364.40" r="2.0" fill="#b0002a"/>
<circle cx="272.00" cy="367.00" r="2.0" fill="#b0002a"/>
<circle cx="282.40" cy="385.00" r="1.75" fill="none" stroke="#2e4f96" stroke-width="0.9"/>
<circle cx="285.80" cy="385.00" r="1.75" fill="none" stroke="#2e4f96" stroke-width="0.9"/>
<line x1="334.90" y1="298.50" x2="334.90" y2="385.90" stroke="#1a1a1a" stroke-width="1.2"/>
<line x1="331.90" y1="385.30" x2="334.90" y2="385.30" stroke="#1a1a1a" stroke-width="1.2"/>
<text x="329.40" y="388.54" font-size="9.0" text-anchor="end" textLength="11.50" lengthAdjust="spacingAndGlyphs">0.0</text>
<line x1="331.90" y1="364.25" x2="334.90" y2="364.25" stroke="#1a1a1a" stroke-width="1.2"/>
<text x="329.40" y="367.49" font-size="9.0" text-anchor="end" textLength="11.50" lengthAdjust="spacingAndGlyphs">2.5</text>
<line x1="331.90" y1="343.20" x2="334.90" y2="343.20" stroke="#1a1a1a" stroke-width="1.2"/>
<text x="329.40" y="346.44" font-size="9.0" text-anchor="end" textLength="11.50" lengthAdjust="spacingAndGlyphs">5.0</text>
<line x1="331.90" y1="322.15" x2="334.90" y2="322.15" stroke="#1a1a1a" stroke-width="1.2"/>
<text x="329.40" y="325.39" font-size="9.0" text-anchor="end" textLength="11.50" lengthAdjust="spacingAndGlyphs">7.5</text>
<line x1="331.90" y1="301.10" x2="334.90" y2="301.10" stroke="#1a1a1a" stroke-width="1.2"/>
<text x="329.40" y="304.34" font-size="9.0" text-anchor="end" textLength="15.30" lengthAdjust="spacingAndGlyphs">10.0</text>
<line x1="331.90" y1="385.30" x2="392.10" y2="385.30" stroke="#1a1a1a" stroke-width="1.2"/>
<line x1="342.50" y1="385.30" x2="342.50" y2="388.30" stroke="#1a1a1a" stroke-width="1.2"/>
<line x1="353.10" y1="385.30" x2="353.10" y2="388.30" stroke="#1a1a1a" stroke-width="1.2"/>
<line x1="363.70" y1="385.30" x2="363.70" y2="388.30" stroke="#1a1a1a" stroke-width="1.2"/>
<line x1="374.70" y1="385.30" x2="374.70" y2="388.30" stroke="#1a1a1a" stroke-width="1.2"/>
<line x1="385.30" y1="385.30" x2="385.30" y2="388.30" stroke="#1a1a1a" stroke-width="1.2"/>
<text x="364.15" y="293.00" font-size="10.35" text-anchor="middle" textLength="19.90" lengthAdjust="spacingAndGlyphs" font-style="italic">Pax5</text>
<text x="345.70" y="394.20" font-size="8.2" text-anchor="end" textLength="8.63" lengthAdjust="spacingAndGlyphs" transform="rotate(-45 345.70 394.20)">FL</text>
<text x="356.30" y="394.20" font-size="8.2" text-anchor="end" textLength="18.51" lengthAdjust="spacingAndGlyphs" transform="rotate(-45 356.30 394.20)">EBF1</text>
<text x="366.90" y="394.20" font-size="8.2" text-anchor="end" textLength="18.51" lengthAdjust="spacingAndGlyphs" transform="rotate(-45 366.90 394.20)">EBF1</text>
<text x="377.90" y="394.20" font-size="8.2" text-anchor="end" textLength="30.84" lengthAdjust="spacingAndGlyphs" transform="rotate(-45 377.90 394.20)">EBF1 ER</text>
<text x="388.50" y="394.20" font-size="8.2" text-anchor="end" textLength="31.25" lengthAdjust="spacingAndGlyphs" transform="rotate(-45 388.50 394.20)">EBF1-ER</text>
<text x="308.60" y="341.15" font-size="8.5" text-anchor="middle" transform="rotate(-90 308.60 341.15)" textLength="51.3" lengthAdjust="spacingAndGlyphs">Relative to <tspan font-style="italic">Hprt</tspan></text>
<circle cx="340.60" cy="385.40" r="2.35" fill="#b0002a"/>
<circle cx="341.80" cy="385.40" r="2.35" fill="#b0002a"/>
<circle cx="343.00" cy="385.40" r="2.35" fill="#b0002a"/>
<circle cx="344.20" cy="385.40" r="2.35" fill="#b0002a"/>
<circle cx="355.40" cy="315.90" r="2.0" fill="#b0002a"/>
<circle cx="353.50" cy="318.10" r="2.0" fill="#b0002a"/>
<circle cx="351.10" cy="319.70" r="2.0" fill="#b0002a"/>
<circle cx="354.40" cy="320.40" r="2.0" fill="#b0002a"/>
<circle cx="354.40" cy="325.10" r="2.0" fill="#b0002a"/>
<circle cx="352.30" cy="327.50" r="2.0" fill="#b0002a"/>
<circle cx="361.90" cy="327.00" r="1.75" fill="none" stroke="#2e4f96" stroke-width="1.0"/>
<circle cx="365.70" cy="327.50" r="1.75" fill="none" stroke="#2e4f96" stroke-width="1.0"/>
<circle cx="363.80" cy="328.90" r="1.75" fill="none" stroke="#2e4f96" stroke-width="1.0"/>
<circle cx="361.90" cy="331.70" r="1.75" fill="none" stroke="#2e4f96" stroke-width="1.0"/>
<circle cx="365.70" cy="330.30" r="1.75" fill="none" stroke="#2e4f96" stroke-width="1.0"/>
<circle cx="375.10" cy="320.90" r="2.0" fill="#b0002a"/>
<circle cx="373.20" cy="323.20" r="2.0" fill="#b0002a"/>
<circle cx="376.10" cy="324.60" r="2.0" fill="#b0002a"/>
<circle cx="372.80" cy="327.50" r="2.0" fill="#b0002a"/>
<circle cx="375.10" cy="326.50" r="2.0" fill="#b0002a"/>
<circle cx="387.10" cy="305.50" r="1.75" fill="none" stroke="#2e4f96" stroke-width="1.0"/>
<circle cx="382.90" cy="308.40" r="1.75" fill="none" stroke="#2e4f96" stroke-width="1.0"/>
<circle cx="385.20" cy="310.20" r="1.75" fill="none" stroke="#2e4f96" stroke-width="1.0"/>
<circle cx="382.90" cy="313.50" r="1.75" fill="none" stroke="#2e4f96" stroke-width="1.0"/>
<circle cx="387.10" cy="312.60" r="1.75" fill="none" stroke="#2e4f96" stroke-width="1.0"/>
<path d="M350.50,307.30 V304.50 H365.50 V307.30" fill="none" stroke="#1a1a1a" stroke-width="1"/>
<circle cx="356.27" cy="300.50" r="1.15" fill="#2a2a2a"/>
<circle cx="359.73" cy="300.50" r="1.15" fill="#2a2a2a"/>
<path d="M374.50,300.80 V298.50 H389.50 V300.80" fill="none" stroke="#1a1a1a" stroke-width="1"/>
<circle cx="378.55" cy="294.20" r="1.15" fill="#2a2a2a"/>
<circle cx="382.00" cy="294.20" r="1.15" fill="#2a2a2a"/>
<circle cx="385.45" cy="294.20" r="1.15" fill="#2a2a2a"/>
<line x1="425.30" y1="298.50" x2="425.30" y2="385.90" stroke="#1a1a1a" stroke-width="1.2"/>
<line x1="422.30" y1="385.30" x2="425.30" y2="385.30" stroke="#1a1a1a" stroke-width="1.2"/>
<text x="419.30" y="388.54" font-size="9.0" text-anchor="end" textLength="4.34" lengthAdjust="spacingAndGlyphs">1</text>
<line x1="422.30" y1="371.27" x2="425.30" y2="371.27" stroke="#1a1a1a" stroke-width="1.2"/>
<text x="419.30" y="374.51" font-size="9.0" text-anchor="end" textLength="4.34" lengthAdjust="spacingAndGlyphs">2</text>
<line x1="422.30" y1="357.23" x2="425.30" y2="357.23" stroke="#1a1a1a" stroke-width="1.2"/>
<text x="419.30" y="360.47" font-size="9.0" text-anchor="end" textLength="4.34" lengthAdjust="spacingAndGlyphs">3</text>
<line x1="422.30" y1="343.20" x2="425.30" y2="343.20" stroke="#1a1a1a" stroke-width="1.2"/>
<text x="419.30" y="346.44" font-size="9.0" text-anchor="end" textLength="4.34" lengthAdjust="spacingAndGlyphs">4</text>
<line x1="422.30" y1="329.17" x2="425.30" y2="329.17" stroke="#1a1a1a" stroke-width="1.2"/>
<text x="419.30" y="332.41" font-size="9.0" text-anchor="end" textLength="4.34" lengthAdjust="spacingAndGlyphs">5</text>
<line x1="422.30" y1="315.13" x2="425.30" y2="315.13" stroke="#1a1a1a" stroke-width="1.2"/>
<text x="419.30" y="318.37" font-size="9.0" text-anchor="end" textLength="4.34" lengthAdjust="spacingAndGlyphs">6</text>
<line x1="422.30" y1="301.10" x2="425.30" y2="301.10" stroke="#1a1a1a" stroke-width="1.2"/>
<text x="419.30" y="304.34" font-size="9.0" text-anchor="end" textLength="4.34" lengthAdjust="spacingAndGlyphs">7</text>
<line x1="422.30" y1="385.30" x2="481.50" y2="385.30" stroke="#1a1a1a" stroke-width="1.2"/>
<line x1="432.00" y1="385.30" x2="432.00" y2="388.30" stroke="#1a1a1a" stroke-width="1.2"/>
<line x1="442.80" y1="385.30" x2="442.80" y2="388.30" stroke="#1a1a1a" stroke-width="1.2"/>
<line x1="453.50" y1="385.30" x2="453.50" y2="388.30" stroke="#1a1a1a" stroke-width="1.2"/>
<line x1="463.80" y1="385.30" x2="463.80" y2="388.30" stroke="#1a1a1a" stroke-width="1.2"/>
<line x1="474.60" y1="385.30" x2="474.60" y2="388.30" stroke="#1a1a1a" stroke-width="1.2"/>
<text x="453.65" y="293.00" font-size="10.35" text-anchor="middle" textLength="18.10" lengthAdjust="spacingAndGlyphs" font-style="italic">Myc</text>
<text x="435.20" y="394.20" font-size="8.2" text-anchor="end" textLength="8.63" lengthAdjust="spacingAndGlyphs" transform="rotate(-45 435.20 394.20)">FL</text>
<text x="446.00" y="394.20" font-size="8.2" text-anchor="end" textLength="18.51" lengthAdjust="spacingAndGlyphs" transform="rotate(-45 446.00 394.20)">EBF1</text>
<text x="456.70" y="394.20" font-size="8.2" text-anchor="end" textLength="18.51" lengthAdjust="spacingAndGlyphs" transform="rotate(-45 456.70 394.20)">EBF1</text>
<text x="467.00" y="394.20" font-size="8.2" text-anchor="end" textLength="30.84" lengthAdjust="spacingAndGlyphs" transform="rotate(-45 467.00 394.20)">EBF1 ER</text>
<text x="477.80" y="394.20" font-size="8.2" text-anchor="end" textLength="31.25" lengthAdjust="spacingAndGlyphs" transform="rotate(-45 477.80 394.20)">EBF1-ER</text>
<text x="409.10" y="341.40" font-size="8.5" text-anchor="middle" transform="rotate(-90 409.10 341.40)" textLength="51.8" lengthAdjust="spacingAndGlyphs">Relative to <tspan font-style="italic">Hprt</tspan></text>
<line x1="431.70" y1="343.80" x2="431.70" y2="357.90" stroke="#b8183c" stroke-width="0.9"/>
<line x1="428.40" y1="348.90" x2="435.00" y2="348.90" stroke="#b8183c" stroke-width="1.0"/>
<circle cx="430.40" cy="343.80" r="2.0" fill="#b0002a"/>
<circle cx="433.20" cy="343.60" r="2.0" fill="#b0002a"/>
<circle cx="431.70" cy="357.90" r="2.0" fill="#b0002a"/>
<circle cx="441.00" cy="306.00" r="2.0" fill="#b0002a"/>
<circle cx="443.20" cy="305.40" r="2.0" fill="#b0002a"/>
<circle cx="445.00" cy="307.00" r="2.0" fill="#b0002a"/>
<circle cx="442.00" cy="307.80" r="2.0" fill="#b0002a"/>
<circle cx="444.00" cy="306.40" r="2.0" fill="#b0002a"/>
<circle cx="453.50" cy="314.00" r="1.75" fill="none" stroke="#2e4f96" stroke-width="1.0"/>
<circle cx="451.50" cy="317.30" r="1.75" fill="none" stroke="#2e4f96" stroke-width="1.0"/>
<circle cx="455.50" cy="317.30" r="1.75" fill="none" stroke="#2e4f96" stroke-width="1.0"/>
<circle cx="453.50" cy="318.00" r="1.75" fill="none" stroke="#2e4f96" stroke-width="1.0"/>
<circle cx="453.50" cy="316.50" r="1.75" fill="none" stroke="#2e4f96" stroke-width="1.0"/>
<circle cx="462.00" cy="344.60" r="2.0" fill="#b0002a"/>
<circle cx="464.00" cy="344.00" r="2.0" fill="#b0002a"/>
<circle cx="466.00" cy="344.60" r="2.0" fill="#b0002a"/>
<circle cx="463.00" cy="345.80" r="2.0" fill="#b0002a"/>
<circle cx="465.00" cy="345.60" r="2.0" fill="#b0002a"/>
<circle cx="472.80" cy="372.60" r="1.75" fill="none" stroke="#2e4f96" stroke-width="1.0"/>
<circle cx="476.20" cy="371.60" r="1.75" fill="none" stroke="#2e4f96" stroke-width="1.0"/>
<circle cx="474.60" cy="373.60" r="1.75" fill="none" stroke="#2e4f96" stroke-width="1.0"/>
<circle cx="475.00" cy="371.00" r="1.75" fill="none" stroke="#2e4f96" stroke-width="1.0"/>
<path d="M441.50,303.20 V300.50 H456.50 V303.20" fill="none" stroke="#1a1a1a" stroke-width="1"/>
<circle cx="443.82" cy="296.60" r="1.15" fill="#2a2a2a"/>
<circle cx="447.27" cy="296.60" r="1.15" fill="#2a2a2a"/>
<circle cx="450.73" cy="296.60" r="1.15" fill="#2a2a2a"/>
<circle cx="454.18" cy="296.60" r="1.15" fill="#2a2a2a"/>
<path d="M461.50,331.50 V328.50 H477.50 V331.50" fill="none" stroke="#1a1a1a" stroke-width="1"/>
<circle cx="464.32" cy="325.40" r="1.15" fill="#2a2a2a"/>
<circle cx="467.77" cy="325.40" r="1.15" fill="#2a2a2a"/>
<circle cx="471.23" cy="325.40" r="1.15" fill="#2a2a2a"/>
<circle cx="474.68" cy="325.40" r="1.15" fill="#2a2a2a"/>
</svg></body></html>
